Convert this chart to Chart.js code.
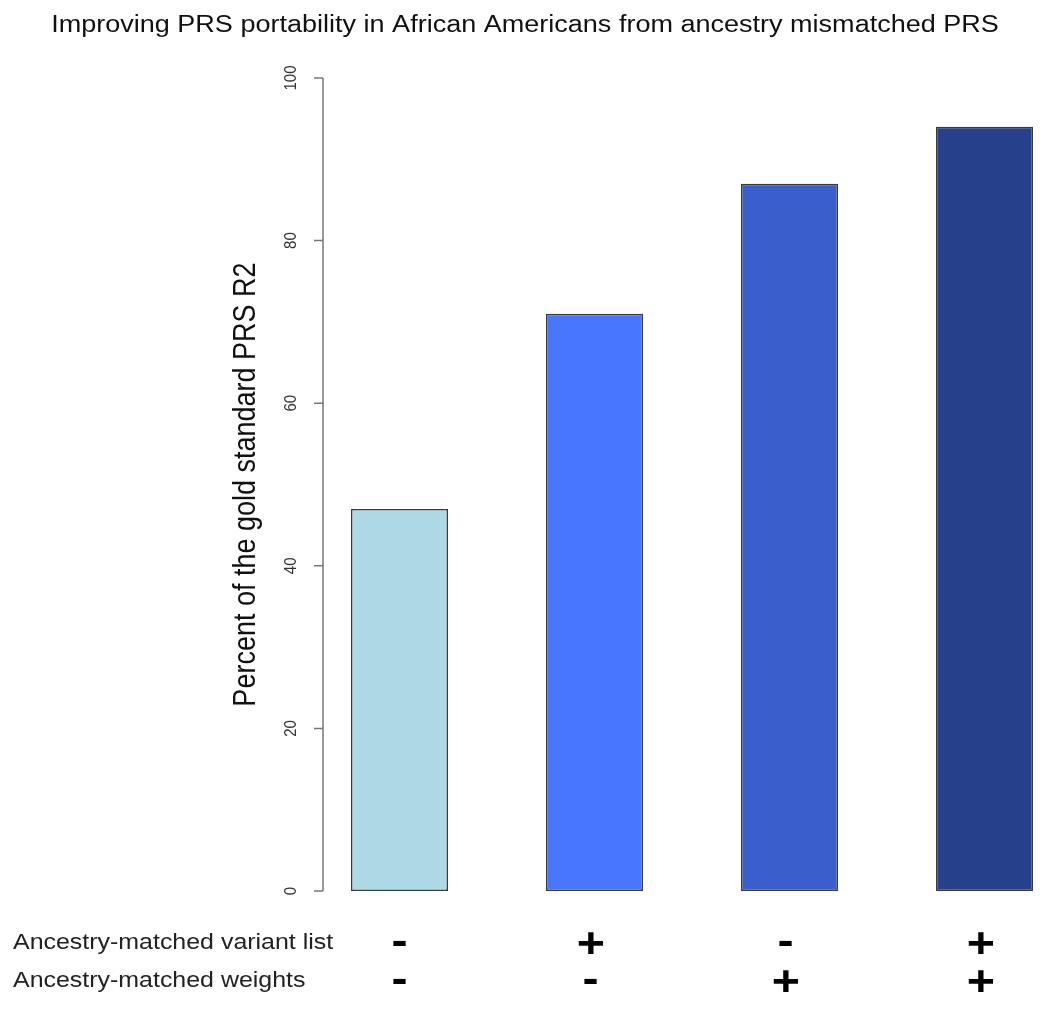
<!DOCTYPE html>
<html>
<head>
<meta charset="utf-8">
<script src="https://cdn.jsdelivr.net/npm/chart.js@4.4.0/dist/chart.umd.min.js"></script>
<style>
  body { margin: 0; background: #fff; }
  #wrap { width: 1050px; height: 1012px; position: relative; }
</style>
</head>
<body>
<div id="wrap"><canvas id="myChart"></canvas></div>
<script>
var groups = ['1', '2', '3', '4'];
var percentOfGold = [47, 71, 87, 94];
var barColors = ['#ADD8E6', '#4876FF', '#3A5FCD', '#27408B'];
var variantList = ['-', '+', '-', '+'];
var matchedWeights = ['-', '-', '+', '+'];
var rowLabels = ['Ancestry-matched variant list', 'Ancestry-matched weights'];
var yTicks = [0, 20, 40, 60, 80, 100];
var titleText = 'Improving PRS portability in African Americans from ancestry mismatched PRS';
var yTitle = 'Percent of the gold standard PRS R2';

var fontFamily = '"Liberation Sans", Arial, sans-serif';
// the original picture is a bit wider than tall, text looks stretched
var stretch = 1.15;

function drawText(ctx, text, x, y, font, color, align, rotate) {
  ctx.save();
  ctx.translate(x, y);
  ctx.scale(stretch, 1);
  if (rotate) ctx.rotate(-Math.PI / 2);
  ctx.font = font;
  ctx.fillStyle = color;
  ctx.textAlign = align;
  ctx.textBaseline = 'middle';
  ctx.fillText(text, 0, 0);
  ctx.restore();
}

// put the ink of a + or - mark centred on x, y
function drawMark(ctx, text, x, y) {
  ctx.save();
  ctx.font = 'bold 42px ' + fontFamily;
  var m = ctx.measureText(text);
  var w = m.actualBoundingBoxLeft + m.actualBoundingBoxRight;
  var h = m.actualBoundingBoxAscent + m.actualBoundingBoxDescent;
  ctx.translate(x, y);
  ctx.scale(stretch, 1);
  ctx.fillStyle = '#000';
  ctx.textAlign = 'left';
  ctx.textBaseline = 'alphabetic';
  ctx.fillText(text, m.actualBoundingBoxLeft - w / 2, h / 2 - m.actualBoundingBoxDescent);
  ctx.restore();
}

var baseAxes = {
  id: 'baseAxes',
  afterDraw: function(chart) {
    var ctx = chart.ctx;
    var xs = chart.scales.x;
    var ys = chart.scales.y;
    var axisX = xs.getPixelForValue(0) - 76.5;

    ctx.save();
    ctx.strokeStyle = '#777';
    ctx.lineWidth = 1.5;
    ctx.beginPath();
    ctx.moveTo(axisX, ys.getPixelForValue(yTicks[0]));
    ctx.lineTo(axisX, ys.getPixelForValue(yTicks[yTicks.length - 1]));
    yTicks.forEach(function(v) {
      var py = ys.getPixelForValue(v);
      ctx.moveTo(axisX - 9, py);
      ctx.lineTo(axisX, py);
    });
    ctx.stroke();
    ctx.restore();

    yTicks.forEach(function(v) {
      drawText(ctx, String(v), axisX - 32, ys.getPixelForValue(v), '15px ' + fontFamily, '#333', 'center', true);
    });
    drawText(ctx, yTitle, 246, (ys.top + ys.bottom) / 2, '27px ' + fontFamily, '#111', 'center', true);
    drawText(ctx, titleText, 525, 26, '23.5px ' + fontFamily, '#111', 'center', false);

    rowLabels.forEach(function(t, i) {
      drawText(ctx, t, 13, 943 + i * 38, '21.7px ' + fontFamily, '#222', 'left', false);
    });
    groups.forEach(function(g, i) {
      var px = xs.getPixelForValue(i) - (i > 0 ? 4 : 0);
      drawMark(ctx, variantList[i], px, 943);
      drawMark(ctx, matchedWeights[i], px, 981);
    });
  }
};

var ctx = document.getElementById('myChart').getContext('2d');
var myChart = new Chart(ctx, {
  type: 'bar',
  data: {
    labels: groups,
    datasets: [{
      data: percentOfGold,
      backgroundColor: barColors,
      borderColor: '#3a3a3a',
      borderWidth: 1.5,
      borderSkipped: false,
      barPercentage: 97 / 195,
      categoryPercentage: 1,
      clip: false
    }]
  },
  options: {
    responsive: true,
    maintainAspectRatio: false,
    animation: false,
    layout: { padding: { left: 399.5, right: 65.5, top: 78, bottom: 121 } },
    plugins: {
      legend: { display: false },
      tooltip: { enabled: false }
    },
    scales: {
      x: { display: false, offset: false },
      y: { display: false, min: 0, max: 100 }
    }
  },
  plugins: [baseAxes]
});
</script>
</body>
</html>
